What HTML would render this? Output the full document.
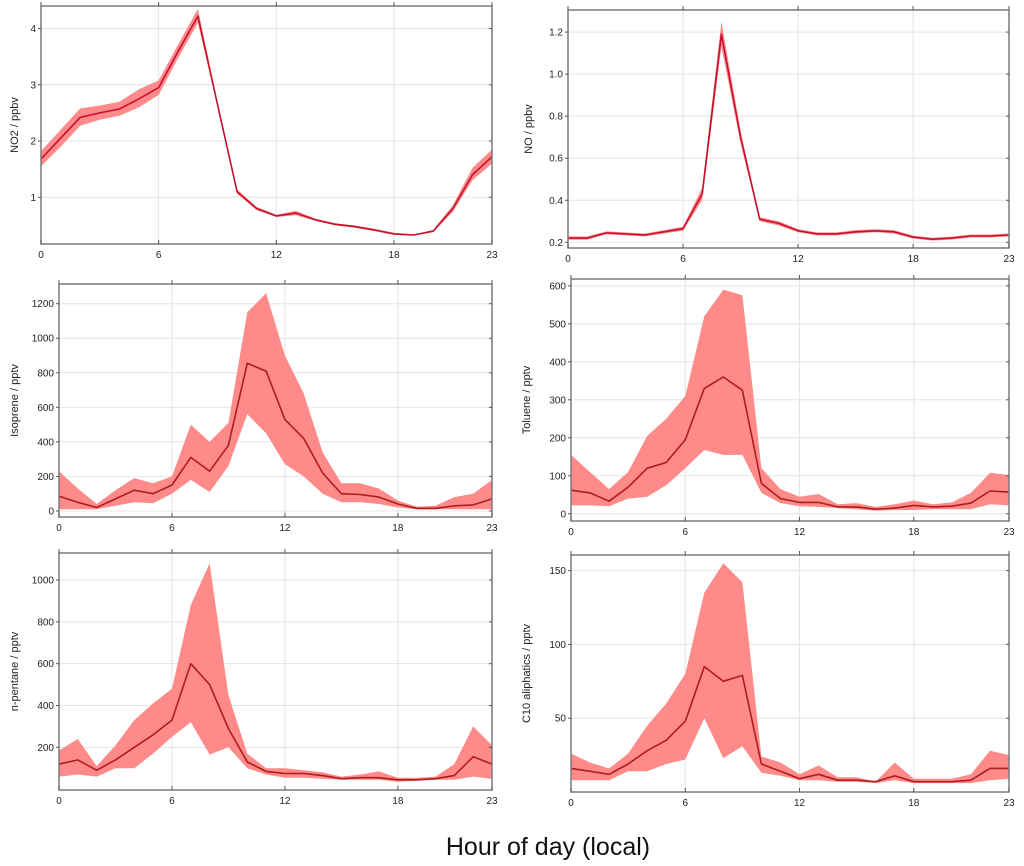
<!DOCTYPE html>
<html><head><meta charset="utf-8">
<style>
body{margin:0;background:#fff;width:1024px;height:866px;overflow:hidden;font-family:"Liberation Sans",sans-serif}
svg{position:absolute;left:0;top:0}
</style></head>
<body>
<svg id="chart" width="1024" height="866">
<text x="548" y="855" text-anchor="middle" font-size="25" fill="#111">Hour of day (local)</text>
</svg>
<script>
const hours = [0,1,2,3,4,5,6,7,8,9,10,11,12,13,14,15,16,17,18,19,20,21,22,23];
const xTicks = [0,6,12,18,23];

const no2Mean = [1.68,2.05,2.42,2.5,2.57,2.75,2.95,3.6,4.22,2.65,1.1,0.8,0.67,0.72,0.6,0.52,0.48,0.42,0.35,0.33,0.4,0.8,1.4,1.72];
const no2Upper = [1.82,2.2,2.58,2.63,2.7,2.92,3.08,3.72,4.35,2.7,1.14,0.83,0.69,0.76,0.62,0.54,0.5,0.44,0.37,0.34,0.42,0.86,1.52,1.85];
const no2Lower = [1.55,1.9,2.27,2.38,2.45,2.6,2.82,3.48,4.1,2.6,1.06,0.77,0.65,0.68,0.58,0.5,0.46,0.4,0.33,0.32,0.38,0.74,1.3,1.6];
const no2Ticks = [1,2,3,4];

const noMean = [0.22,0.22,0.245,0.24,0.235,0.25,0.265,0.43,1.19,0.7,0.31,0.29,0.255,0.24,0.24,0.25,0.255,0.25,0.225,0.215,0.22,0.23,0.23,0.235];
const noUpper = [0.228,0.228,0.252,0.247,0.242,0.258,0.275,0.46,1.25,0.73,0.32,0.3,0.262,0.247,0.247,0.258,0.262,0.258,0.232,0.222,0.227,0.237,0.237,0.242];
const noLower = [0.212,0.212,0.238,0.233,0.228,0.242,0.255,0.4,1.13,0.67,0.3,0.28,0.248,0.233,0.233,0.242,0.248,0.242,0.218,0.208,0.213,0.223,0.223,0.228];
const noTicks = [0.2,0.4,0.6,0.8,1.0,1.2];

const isoMean = [85,50,20,70,120,100,150,310,230,380,855,810,530,420,220,100,95,80,40,15,15,30,35,70];
const isoUpper = [230,130,40,120,190,160,200,500,400,510,1150,1260,900,680,340,160,160,130,60,25,30,80,100,180];
const isoLower = [10,10,10,30,50,45,100,180,110,260,560,450,270,200,100,50,50,40,20,10,10,10,10,10];
const isoTicks = [0,200,400,600,800,1000,1200];

const tolMean = [62,55,33,70,120,135,195,330,360,325,80,40,30,30,18,18,12,15,22,18,20,28,60,57];
const tolUpper = [155,110,65,110,205,250,310,520,590,575,120,65,45,52,25,28,18,25,35,25,30,55,108,102];
const tolLower = [22,22,20,40,45,75,120,168,155,155,55,28,20,18,15,12,8,10,10,12,12,12,25,22];
const tolTicks = [0,100,200,300,400,500,600];

const penMean = [120,140,90,140,200,260,330,600,500,290,130,85,75,75,65,50,55,55,45,45,50,65,155,120];
const penUpper = [185,240,110,210,330,410,480,880,1080,450,170,100,100,90,80,60,70,85,55,55,60,120,300,210];
const penLower = [60,70,60,100,100,170,250,320,165,200,100,70,55,55,50,45,45,45,35,40,45,45,60,50];
const penTicks = [200,400,600,800,1000];

const c10Mean = [16,14,12,19,28,35,48,85,75,79,19,14,9,12,8,8,7,11,7,7,7,8,16,16];
const c10Upper = [26,20,16,26,45,60,80,135,155,142,24,20,12,18,10,10,7,20,9,9,9,12,28,25];
const c10Lower = [8,8,8,14,14,19,22,50,23,31,13,11,8,8,7,7,6,8,6,6,6,6,8,9];
const c10Ticks = [50,100,150];

const NS = "http://www.w3.org/2000/svg";
const svg = document.getElementById('chart');
function mk(tag, attrs, parent){const e=document.createElementNS(NS,tag);for(const k in attrs)e.setAttribute(k,attrs[k]);(parent||svg).appendChild(e);return e;}

function panel(id, label, box, ymin, ymax, mean, upper, lower, yTicks, fmt, lineColor){
  const g = mk('g',{});
  
  
  const xs = h => box.l + (h - 0) / 23 * (box.r - box.l);
  const ys = v => box.b - (v - ymin) / (ymax - ymin) * (box.b - box.t);
  // grid
  xTicks.forEach(t=>{ if(t>0&&t<23){const l=mk('line',{x1:xs(t),x2:xs(t),y1:box.t,y2:box.b,stroke:'#e4e4e4','stroke-width':1},g);
    
    }});
  yTicks.forEach(t=>{const l=mk('line',{x1:box.l,x2:box.r,y1:ys(t),y2:ys(t),stroke:'#e4e4e4','stroke-width':1},g);
    
    });
  // band
  let d='';
  hours.forEach((h,i)=>{d+=(i?'L':'M')+xs(h).toFixed(1)+','+ys(upper[i]).toFixed(1);});
  for(let i=hours.length-1;i>=0;i--){d+='L'+xs(hours[i]).toFixed(1)+','+ys(lower[i]).toFixed(1);}
  const band=mk('path',{d:d+'Z',fill:'#ff8a8a',stroke:'none'},g);
  
  
  let d2='';
  hours.forEach((h,i)=>{d2+=(i?'L':'M')+xs(h).toFixed(1)+','+ys(mean[i]).toFixed(1);});
  const ln=mk('path',{d:d2,fill:'none',stroke:lineColor,'stroke-width':1.6,'stroke-linejoin':'round'},g);
  
  
  // frame
  const fr=mk('rect',{x:box.l,y:box.t,width:box.r-box.l,height:box.b-box.t,fill:'none',stroke:'#7a7a7a','stroke-width':1.5},g);
  
  
  // x ticks
  xTicks.forEach(t=>{
    mk('line',{x1:xs(t),x2:xs(t),y1:box.b,y2:box.b-4,stroke:'#555'},g);
    mk('line',{x1:xs(t),x2:xs(t),y1:box.t,y2:box.t-4,stroke:'#555'},g);
    const tx=mk('text',{x:xs(t),y:box.b+14,'text-anchor':'middle','font-size':10,fill:'#222'},g);
    tx.textContent=t;
    
    
  });
  yTicks.forEach(t=>{
    mk('line',{x1:box.l,x2:box.l-3,y1:ys(t),y2:ys(t),stroke:'#555'},g);
    mk('line',{x1:box.r,x2:box.r-3,y1:ys(t),y2:ys(t),stroke:'#555'},g);
    const tx=mk('text',{x:box.l-5,y:ys(t)+3.5,'text-anchor':'end','font-size':10,fill:'#222'},g);
    tx.textContent=fmt(t);
    
    
  });
  const cy=(box.t+box.b)/2, cx=box.lx;
  const yl=mk('text',{x:cx,y:cy,'text-anchor':'middle','font-size':11,fill:'#222',transform:`rotate(-90 ${cx} ${cy})`},g);
  yl.textContent=label;
  
  
}
const f0=v=>String(v), f1=v=>v.toFixed(1);
panel('no2','NO2 / ppbv',{l:41,r:492,t:6,b:244,lx:18},0.17,4.4,no2Mean,no2Upper,no2Lower,no2Ticks,f0,'#c8102e');
panel('no','NO / ppbv',{l:568,r:1009,t:10,b:248,lx:532},0.173,1.305,noMean,noUpper,noLower,noTicks,f1,'#c8102e');
panel('isoprene','Isoprene / pptv',{l:59,r:492,t:284,b:517,lx:18},-35,1314,isoMean,isoUpper,isoLower,isoTicks,f0,'#b01c1c');
panel('toluene','Toluene / pptv',{l:571,r:1009,t:279,b:521,lx:530},-19,618,tolMean,tolUpper,tolLower,tolTicks,f0,'#b01c1c');
panel('n-pentane','n-pentane / pptv',{l:59,r:492,t:553,b:790,lx:18},-4,1129,penMean,penUpper,penLower,penTicks,f0,'#b01c1c');
panel('c10','C10 aliphatics / pptv',{l:571,r:1009,t:555,b:792,lx:530},0,160.6,c10Mean,c10Upper,c10Lower,c10Ticks,f0,'#b01c1c');
</script>
</body></html>
